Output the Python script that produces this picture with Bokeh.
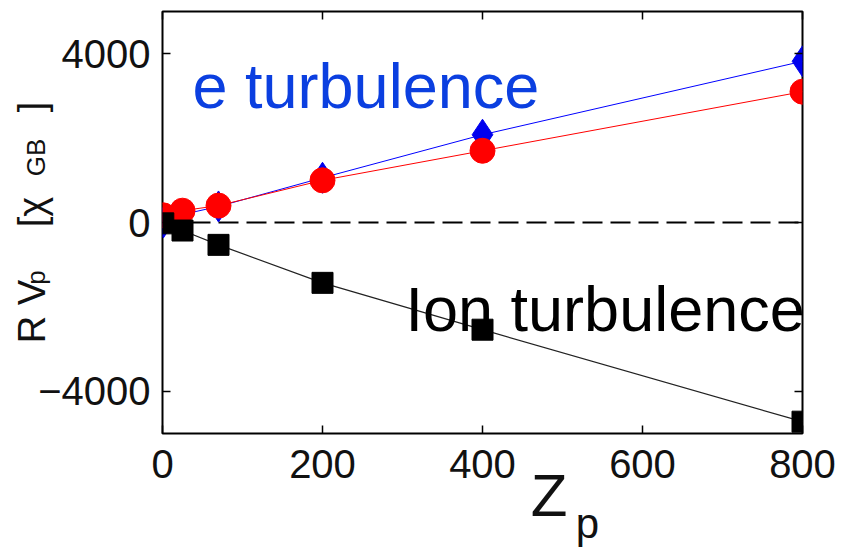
import math
from bokeh.plotting import figure
from bokeh.models import Range1d, FixedTicker, LinearAxis, Span, Label, CustomJSTickFormatter
from bokeh.embed import file_html
from bokeh.resources import INLINE

# ---- data ----
z_values = [1, 25, 70, 200, 400, 800]
e_blue = [0, 190, 380, 1060, 2080, 3820]
e_red = [170, 280, 400, 1000, 1700, 3100]
ion_black = [-20, -190, -530, -1430, -2540, -4720]

x_ticks = [0, 200, 400, 600, 800]
x_tick_labels = ["0", "200", "400", "600", "800"]
y_ticks = [-4000, 0, 4000]
y_tick_labels = ["\u22124000", "0", "4000"]
zero_level = 0

NB = "\u00a0"  # non-breaking space, used to shift text inside axis titles
x_title_main = NB * 8 + "Z"
x_title_sub = NB * 18 + "p"
y_title_main = "R" + NB + "V" + NB * 5 + "[\u03c7" + NB * 8 + "]"
y_title_sub = NB * 9 + "p" + NB * 13 + "GB" + NB * 6

# ---- layout (page pixels) ----
W, H = 849, 555
FL, FR, FT, FB = 162, 802, 11, 433
X0, X1 = 0, 800
Y0, Y1 = -5000, 5000
FONT = "Liberation Sans"


def dx(px):
    return X0 + (px - FL) / (FR - FL) * (X1 - X0)


def dy(py):
    return Y1 - (py - FT) / (FB - FT) * (Y1 - Y0)


p = figure(width=W, height=H, x_range=Range1d(X0, X1), y_range=Range1d(Y0, Y1),
           output_backend="svg", toolbar_location=None,
           x_axis_type=None, y_axis_type=None,
           min_border_left=FL, min_border_right=W - FR,
           min_border_top=FT, min_border_bottom=H - FB)
p.background_fill_color = "white"
p.border_fill_color = "white"
p.outline_line_color = "black"
p.outline_line_width = 2
p.xgrid.visible = False
p.ygrid.visible = False


def make_axis(ticks, labels, show_labels, standoff, tick_in=8):
    ax = LinearAxis(ticker=FixedTicker(ticks=ticks))
    ax.axis_line_color = None
    ax.major_tick_in = tick_in
    ax.major_tick_out = 0
    ax.major_tick_line_width = 1.5
    ax.major_tick_line_color = "black" if tick_in else None
    ax.minor_tick_line_color = None
    ax.major_label_text_font = FONT
    ax.major_label_text_color = "#111111"
    ax.axis_label_text_font = FONT
    ax.axis_label_text_font_style = "normal"
    ax.axis_label_text_color = "#111111"
    if show_labels:
        ax.major_label_overrides = {t: l for t, l in zip(ticks, labels)}
        ax.major_label_text_font_size = "40px"
        ax.major_label_standoff = standoff
    else:
        ax.formatter = CustomJSTickFormatter(code="return ''")
        ax.major_label_text_font_size = "1px"
        ax.major_label_standoff = 0
    return ax


bottom = make_axis(x_ticks, x_tick_labels, True, 16)
bottom.axis_label = x_title_main
bottom.axis_label_text_font_size = "60px"
bottom.axis_label_standoff = -19
p.add_layout(bottom, "below")

bottom2 = make_axis(x_ticks, x_tick_labels, False, 0, tick_in=0)
bottom2.axis_label = x_title_sub
bottom2.axis_label_text_font_size = "42px"
bottom2.axis_label_standoff = -32
p.add_layout(bottom2, "below")

left = make_axis(y_ticks, y_tick_labels, True, 12)
left.axis_label = y_title_main
left.axis_label_text_font_size = "38px"
left.axis_label_standoff = -18
p.add_layout(left, "left")

left2 = make_axis(y_ticks, y_tick_labels, False, 0, tick_in=0)
left2.axis_label = y_title_sub
left2.axis_label_text_font_size = "26px"
left2.axis_label_standoff = -42
p.add_layout(left2, "left")

p.add_layout(make_axis(x_ticks, x_tick_labels, False, 0), "above")
p.add_layout(make_axis(y_ticks, y_tick_labels, False, 0), "right")

p.add_layout(Span(location=zero_level, dimension="width", line_color="black",
                  line_width=2, line_dash="20 8", level="underlay"))

p.line(z_values, e_blue, line_color="#0000ff", line_width=1)
p.scatter(z_values, e_blue, marker="diamond", size=31, fill_color="#0000ee",
          line_color="#0000ee")
p.line(z_values, e_red, line_color="#ff0000", line_width=1)
p.scatter(z_values, e_red, marker="circle", size=25, fill_color="#ff0000",
          line_color="#ff0000")
p.line(z_values, ion_black, line_color="#222222", line_width=1.2)
p.scatter(z_values, ion_black, marker="square", size=21, fill_color="black",
          line_color="black")

p.add_layout(Label(x=dx(192), y=dy(85), text="e turbulence", text_font=FONT,
                   text_font_size="63px", text_color="#0b3fe0",
                   text_baseline="alphabetic", text_align="left"))
p.add_layout(Label(x=dx(405), y=dy(308), text="Ion turbulence", text_font=FONT,
                   text_font_size="63px", text_color="black",
                   text_baseline="alphabetic", text_align="left"))

open("out.html", "w").write(file_html(p, INLINE))
